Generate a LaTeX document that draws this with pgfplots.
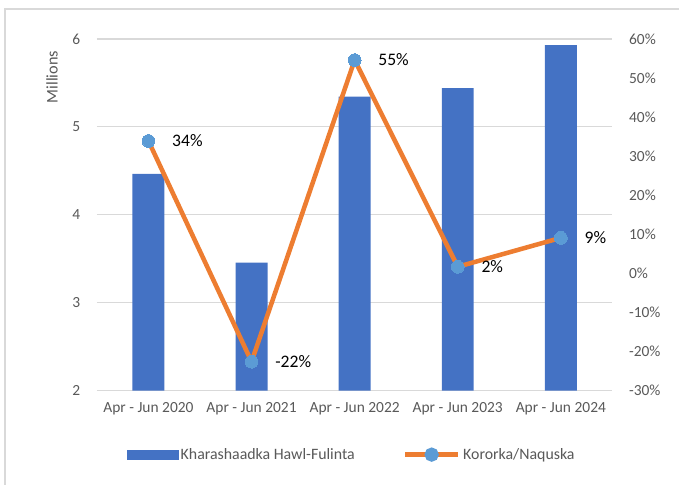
\documentclass[border=0pt]{standalone}
\usepackage{pgfplots}
\pgfplotsset{compat=1.18}
\usepackage{fontspec}
\setmainfont{Carlito}
\definecolor{barblue}{HTML}{4472C4}
\definecolor{lineorange}{HTML}{ED7D31}
\definecolor{markblue}{HTML}{5B9BD5}
\definecolor{gridgray}{HTML}{D9D9D9}
\definecolor{txtgray}{HTML}{595959}

\pgfplotstableread{
x val
0 4.466
1 3.455
2 5.344
3 5.440
4 5.930
}\bars

\pgfplotstableread{
x pct lab
0 33.9 34\%
1 -22.6 -22\%
2 54.6 55\%
3 1.7 2\%
4 9.1 9\%
}\growth

\begin{document}
\begin{tikzpicture}[font=\fontsize{11.6pt}{13pt}\selectfont]
\begin{axis}[
    name=main,
    scale only axis,
    width=387pt, height=264pt,
    xmin=-0.5, xmax=4.5,
    ymin=2, ymax=6,
    ytick={2,3,4,5,6},
    xtick={0,1,2,3,4},
    xticklabels={Apr - Jun 2020,Apr - Jun 2021,Apr - Jun 2022,Apr - Jun 2023,Apr - Jun 2024},
    major tick length=0pt,
    axis line style={draw=none},
    ymajorgrids,
    grid style={gridgray, line width=0.9pt},
    ticklabel style={text=txtgray, font=\fontsize{11.6pt}{13pt}\selectfont},
    /pgf/number format/assume math mode=true,
    yticklabel style={xshift=-9pt},
    xticklabel style={yshift=-5pt},
    clip=false,
]
\addplot[ybar, bar width=24pt, fill=barblue, draw=none] table[x=x, y=val] {\bars};
\node[rotate=90, text=txtgray, font=\fontsize{12.2pt}{13pt}\selectfont] at (rel axis cs:-0.087,0.892) {Millions};
\end{axis}
\begin{axis}[
    scale only axis,
    width=387pt, height=264pt,
    xmin=-0.5, xmax=4.5,
    ymin=-30, ymax=60,
    axis y line*=right,
    axis x line=none,
    ytick={-30,-20,...,60},
    yticklabels={-30\%,-20\%,-10\%,0\%,10\%,20\%,30\%,40\%,50\%,60\%},
    major tick length=0pt,
    y axis line style={draw=none},
    yticklabel style={text=txtgray, xshift=9pt, font=\fontsize{11.6pt}{13pt}\selectfont},
    clip=false,
    legend columns=2,
    legend style={at={(0.495,-0.182)}, anchor=center, draw=none,
        font=\fontsize{11.9pt}{13pt}\selectfont, text=txtgray,
        /tikz/every even column/.append style={column sep=34pt}},
]
\addlegendimage{legend image code/.code={
    \fill[barblue] (0pt,-3.4pt) rectangle (38pt,3.4pt);}}
\addlegendentry{Kharashaadka Hawl-Fulinta}
\addplot[lineorange, line width=3.4pt, mark=*, 
    mark options={draw=markblue, fill=markblue, line width=0pt},
    mark size=4.8pt,
    legend image code/.code={
      \draw[lineorange, line width=3.4pt] (0pt,0pt) -- (40pt,0pt);
      \fill[markblue] (20pt,0pt) circle (3.6pt);},
    nodes near coords,
    point meta=explicit symbolic,
    every node near coord/.append style={anchor=west, xshift=14.5pt, yshift=0pt,
        text=black, font=\fontsize{13.2pt}{14pt}\selectfont},
    ] table[x=x, y=pct, meta=lab] {\growth};
\addlegendentry{Kororka/Naquska}
\end{axis}
\draw[gridgray, line width=1pt] ([xshift=-69pt,yshift=-70.5pt]main.south west)
    -- ([xshift=-69pt,yshift=286.5pt]main.south west)
    -- ([xshift=437.25pt,yshift=286.5pt]main.south west);
\path ([xshift=-72.75pt,yshift=-70.5pt]main.south west)
    rectangle ([xshift=437.25pt,yshift=293.25pt]main.south west);
\end{tikzpicture}
\end{document}
